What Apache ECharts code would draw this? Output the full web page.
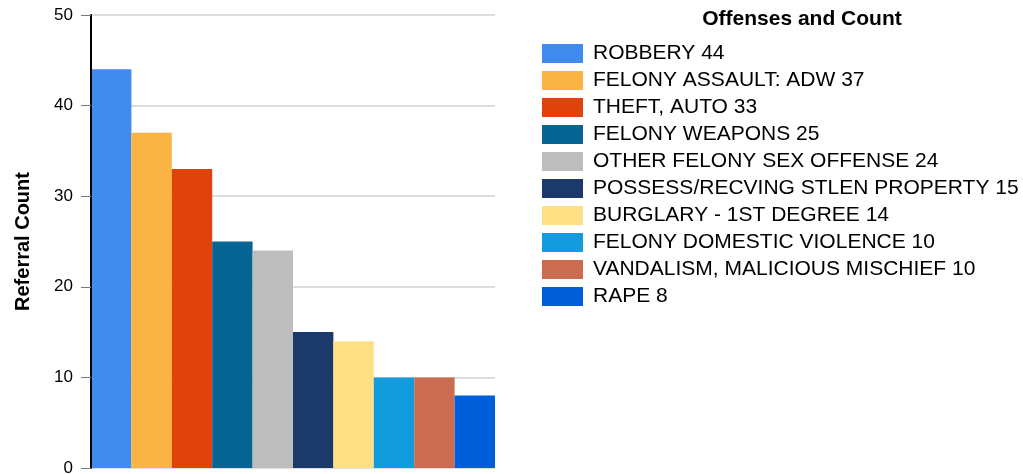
<!DOCTYPE html>
<html>
<head>
<meta charset="utf-8">
<script src="https://cdn.jsdelivr.net/npm/echarts@6/dist/echarts.min.js"></script>
<style>
  html, body { margin: 0; padding: 0; background: #fff; }
  #chart { width: 1023px; height: 474px; }
</style>
</head>
<body>
<div id="chart"></div>
<script>
// offenses, sorted by count
const offenses = [
  'ROBBERY',
  'FELONY ASSAULT: ADW',
  'THEFT, AUTO',
  'FELONY WEAPONS',
  'OTHER FELONY SEX OFFENSE',
  'POSSESS/RECVING STLEN PROPERTY',
  'BURGLARY - 1ST DEGREE',
  'FELONY DOMESTIC VIOLENCE',
  'VANDALISM, MALICIOUS MISCHIEF',
  'RAPE'
];
const counts = [44, 37, 33, 25, 24, 15, 14, 10, 10, 8];
const barColors = ['#428bee', '#fab443', '#e0420b', '#066594', '#bdbdbd',
  '#1b3a6b', '#ffe084', '#139cdd', '#cb6b4f', '#005edb'];
const yTicks = [0, 10, 20, 30, 40, 50];

const chart = echarts.init(document.getElementById('chart'));

// one series per offense so every bar gets its own legend entry
const series = offenses.map((name, i) => ({
  name: name + ' ' + counts[i],
  type: 'bar',
  data: [counts[i]],
  itemStyle: { color: barColors[i] },
  barGap: 0,
  barCategoryGap: 0,
  animation: false
}));

const yMin = yTicks[0];
const yMax = yTicks[yTicks.length - 1];

chart.setOption({
  textStyle: { fontFamily: 'Liberation Sans, Arial, sans-serif' },
  title: {
    text: 'Offenses and Count',
    left: 802,
    top: 9,
    padding: 0,
    textAlign: 'center',
    textStyle: { fontSize: 21, fontWeight: 'bold', color: '#000' }
  },
  legend: {
    orient: 'vertical',
    left: 542,
    top: 43,
    padding: 0,
    icon: 'rect',
    itemWidth: 41,
    itemHeight: 19,
    itemGap: 6,
    selectedMode: false,
    textStyle: { fontSize: 21, color: '#000', padding: [0, 0, 0, 5] }
  },
  grid: { left: 91, right: 528, top: 15, bottom: 6, outerBoundsMode: 'none' },
  xAxis: {
    type: 'category',
    data: [''],
    axisLine: { show: false },
    axisTick: { show: false },
    axisLabel: { show: false }
  },
  yAxis: [
    {
      // gridlines only, behind the bars
      type: 'value',
      min: yMin,
      max: yMax,
      interval: 10,
      name: 'Referral Count',
      nameLocation: 'middle',
      nameGap: 58,
      nameTextStyle: { fontSize: 20, fontWeight: 'bold', color: '#000' },
      axisLine: { show: false },
      axisTick: { show: false },
      axisLabel: { fontSize: 17, color: '#000', margin: 18 },
      splitLine: { lineStyle: { color: '#dddddd', width: 2 } }
    },
    {
      // axis line and ticks, drawn on top of the bars
      type: 'value',
      position: 'left',
      z: 5,
      min: yMin,
      max: yMax,
      interval: 10,
      axisLine: { show: true, lineStyle: { color: '#000', width: 2 } },
      axisTick: { show: true, length: 10, lineStyle: { color: '#777' } },
      axisLabel: { show: false },
      splitLine: { show: false }
    }
  ],
  series: series
});
</script>
</body>
</html>
